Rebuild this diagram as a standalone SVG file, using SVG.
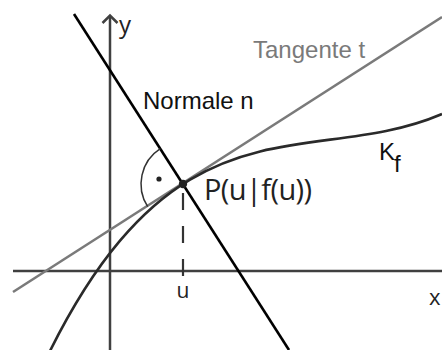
<svg xmlns="http://www.w3.org/2000/svg" width="442" height="350" viewBox="0 0 442 350">
<style>
.axis{stroke:#404040;stroke-width:2.5;fill:none}
.tan{stroke:#7a7a7a;stroke-width:2.6;fill:none}
.nor{stroke:#000;stroke-width:2.6;fill:none}
.curve{stroke:#2a2a2a;stroke-width:2.6;fill:none}
.lab{font-family:"Liberation Sans",Arial,sans-serif;font-size:24px}
.lab2{font-family:"Open Sans","Liberation Sans",sans-serif}
</style>
<rect width="442" height="350" fill="#fff"/>
<g id="axes">
<line class="axis" x1="13" y1="271" x2="442" y2="271"/>
<line class="axis" x1="110" y1="350" x2="110" y2="16"/>
<polyline class="axis" points="102.5,23 110,15.5 117.5,23" stroke-width="2"/>
<text class="lab2" x="119" y="33" font-size="24" fill="#222">y</text>
<text class="lab2" x="429" y="305" font-size="22" fill="#222">x</text>
</g>
<g id="connectors">
<line id="tangente" class="tan" x1="13" y1="292" x2="442" y2="17"/>
<line id="normale" class="nor" x1="74" y1="14" x2="289" y2="350"/>
<path id="kf" class="curve" d="M50,351 C180.67,89 311.33,170 442,114"/>
<line id="dash" x1="183" y1="193" x2="183" y2="278" stroke="#333" stroke-width="2.2" stroke-dasharray="17 16"/>
<path id="angle" d="M160.3,148.7 A42,42 0 0 0 147.7,206.7" fill="none" stroke="#333" stroke-width="1.5"/>
<circle cx="159" cy="179" r="2.6" fill="#222"/>
</g>
<g id="P">
<circle cx="183" cy="184" r="4.2" fill="#222"/>
<text class="lab2" x="204" y="200" font-size="29" fill="#222" letter-spacing="-0.6">P(u|f(u))</text>
</g>
<g id="labels">
<text class="lab" x="253" y="58" fill="#7a7a7a">Tangente t</text>
<text class="lab" x="143" y="109" fill="#111">Normale n</text>
<text class="lab" x="379" y="160" fill="#111">K</text>
<text class="lab" x="394" y="172" font-size="20" fill="#111">f</text>
<text class="lab2" x="183" y="298" font-size="21" fill="#222" text-anchor="middle">u</text>
</g>
</svg>
